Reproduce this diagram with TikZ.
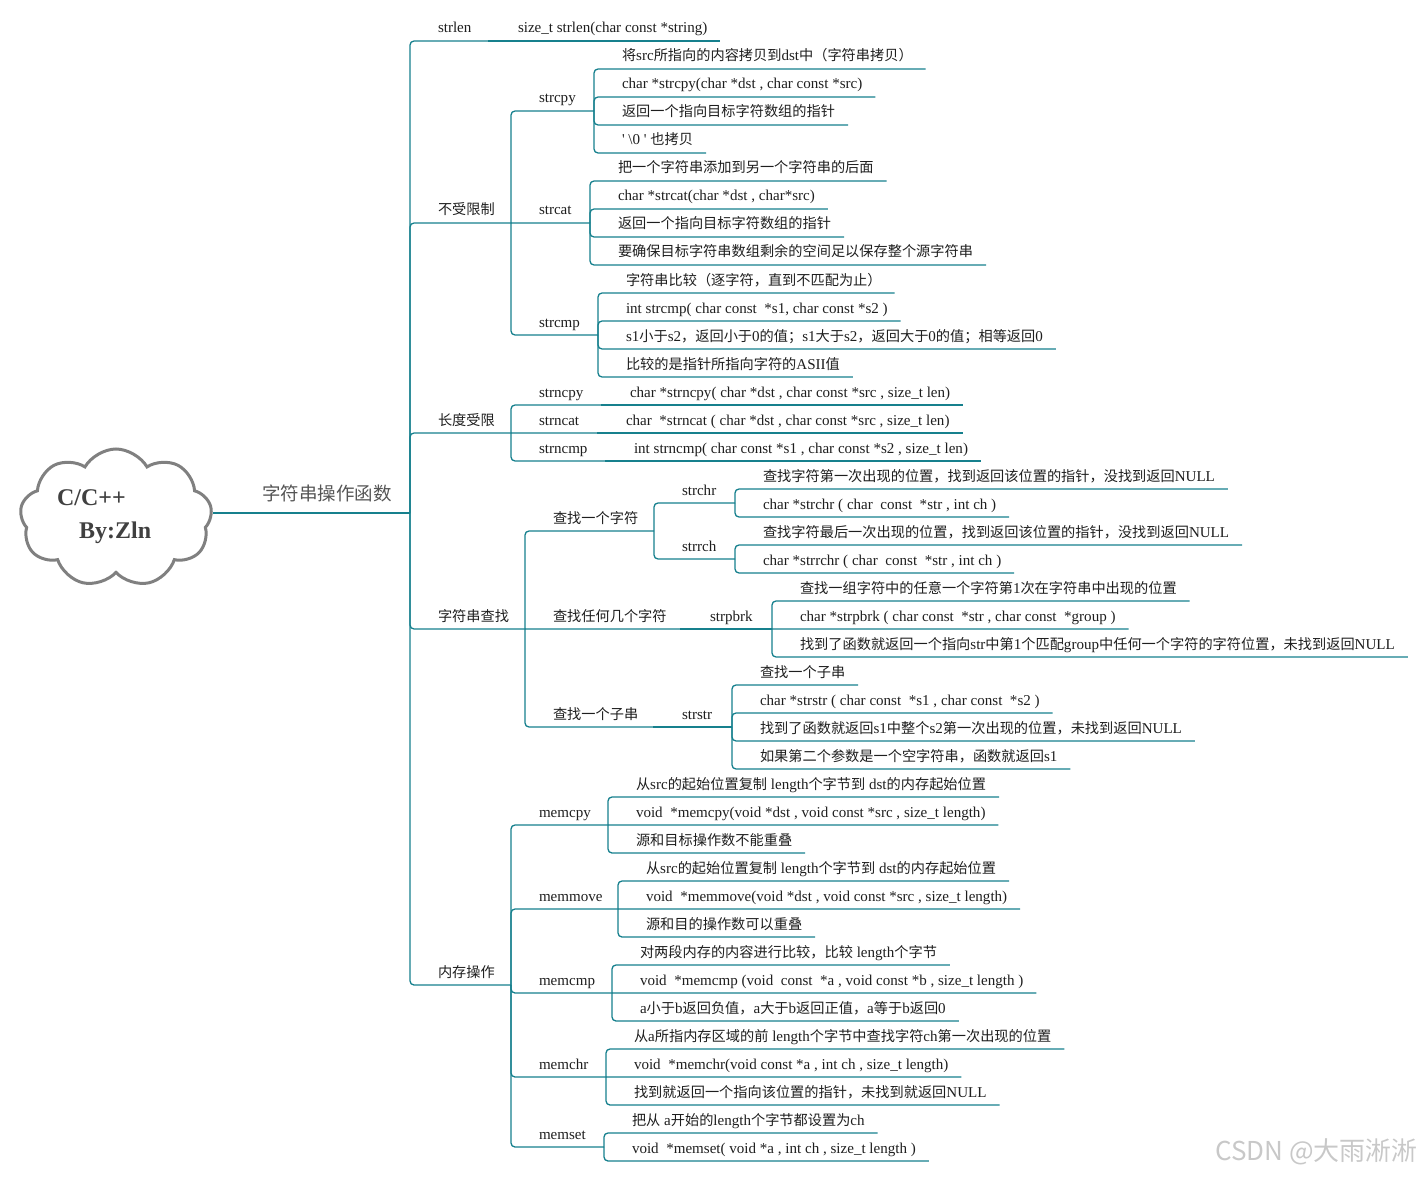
\documentclass[tikz,border=0pt]{standalone}
\usepackage{fontspec}
\setmainfont{Liberation Serif}[Scale=1.06]
\newfontfamily\cjk{Noto Sans CJK SC}
\usetikzlibrary{shapes.symbols}

% Chinese characters are set in the CJK family, the rest in the main font
\newcount\cjkc
\cjkc="4E00
\loop \XeTeXcharclass\cjkc=7 \advance\cjkc by 1 \ifnum\cjkc<"A000 \repeat
\cjkc="3000
\loop \XeTeXcharclass\cjkc=7 \advance\cjkc by 1 \ifnum\cjkc<"3040 \repeat
\cjkc="FF00
\loop \XeTeXcharclass\cjkc=7 \advance\cjkc by 1 \ifnum\cjkc<"FFF0 \repeat
\XeTeXinterchartoks 0 7 = {\begingroup\cjk}
\XeTeXinterchartoks 4095 7 = {\begingroup\cjk}
\XeTeXinterchartoks 7 0 = {\endgroup}
\XeTeXinterchartoks 7 4095 = {\endgroup}
\XeTeXinterchartokenstate=1

\definecolor{branch}{RGB}{22,128,141}
\definecolor{ink}{RGB}{30,30,30}
\definecolor{titlegray}{RGB}{85,85,85}
\definecolor{cloudline}{RGB}{128,128,128}
\definecolor{mark}{RGB}{200,200,200}

\begin{document}
\begin{tikzpicture}[x=1pt,y=-1pt,
  link/.style={draw=branch,line width=1.3pt,rounded corners=4pt},
  topic/.style={anchor=south west,inner sep=0pt,outer sep=0pt,text depth=8pt,text=ink,font=\fontsize{14.2}{17}\selectfont}]
\useasboundingbox (0,0) rectangle (1422,1177);

% root
\draw[link] (213,513) coordinate (rootE) -- (410,513) coordinate (j0);
\node[cloud,cloud puffs=9,cloud puff arc=120,aspect=1.4,draw=cloudline,line width=3pt,fill=white,
  minimum width=192pt,minimum height=138pt,inner sep=0pt] (root) at (116,518) {};
\node[anchor=base west,inner sep=0pt,text=ink!85,font=\fontsize{22.6}{26}\selectfont\bfseries] (rootA) at (57,505) {C/C++};
\node[anchor=base west,inner sep=0pt,text=ink!85,font=\fontsize{22.6}{26}\selectfont\bfseries] (rootB) at (79,538) {By:Zln};
\node[topic,text depth=13pt,text=titlegray,font=\fontsize{18.5}{22}\selectfont] (title) at (262,513) {字符串操作函数};

% level 1
\node[topic] (strlen) at (438,41) {strlen};
\node[topic] (unlim) at (438,223) {不受限制};
\node[topic] (lenlim) at (438,433) {长度受限};
\node[topic] (search) at (438,629) {字符串查找};
\node[topic] (memop) at (438,985) {内存操作};
\coordinate (strlenJ) at (488,41);
\coordinate (unlimJ) at (511,223);
\coordinate (lenlimJ) at (511,433);
\coordinate (searchJ) at (525,629);
\coordinate (memopJ) at (511,985);

% strlen
\node[topic] (strlenA) at (518,41) {size\_t strlen(char const *string)};

% unlimited
\node[topic] (strcpy) at (539,111) {strcpy};
\node[topic] (strcat) at (539,223) {strcat};
\node[topic] (strcmp) at (539,335) {strcmp};
\coordinate (strcpyJ) at (594,111);
\coordinate (strcatJ) at (590,223);
\coordinate (strcmpJ) at (598,335);
\node[topic] (strcpyA) at (622,69) {将src所指向的内容拷贝到dst中（字符串拷贝）};
\node[topic] (strcpyB) at (622,97) {char *strcpy(char *dst , char const *src)};
\node[topic] (strcpyC) at (622,125) {返回一个指向目标字符数组的指针};
\node[topic] (strcpyD) at (622,153) {\textquotesingle\ \textbackslash 0 \textquotesingle\ 也拷贝};
\node[topic] (strcatA) at (618,181) {把一个字符串添加到另一个字符串的后面};
\node[topic] (strcatB) at (618,209) {char *strcat(char *dst , char*src)};
\node[topic] (strcatC) at (618,237) {返回一个指向目标字符数组的指针};
\node[topic] (strcatD) at (618,265) {要确保目标字符串数组剩余的空间足以保存整个源字符串};
\node[topic] (strcmpA) at (626,293) {字符串比较（逐字符，直到不匹配为止）};
\node[topic] (strcmpB) at (626,321) {int strcmp( char const \ *s1, char const *s2 )};
\node[topic] (strcmpC) at (626,349) {s1小于s2，返回小于0的值；s1大于s2，返回大于0的值；相等返回0};
\node[topic] (strcmpD) at (626,377) {比较的是指针所指向字符的ASII值};

% length limited
\node[topic] (strncpy) at (539,405) {strncpy};
\node[topic] (strncat) at (539,433) {strncat};
\node[topic] (strncmp) at (539,461) {strncmp};
\coordinate (strncpyJ) at (601,405);
\coordinate (strncatJ) at (597,433);
\coordinate (strncmpJ) at (605,461);
\node[topic] (strncpyA) at (630,405) {char *strncpy( char *dst , char const *src , size\_t len)};
\node[topic] (strncatA) at (626,433) {char \ *strncat ( char *dst , char const *src , size\_t len)};
\node[topic] (strncmpA) at (634,461) {int strncmp( char const *s1 , char const *s2 , size\_t len)};

% search
\node[topic] (onechar) at (553,531) {查找一个字符};
\node[topic] (anychar) at (553,629) {查找任何几个字符};
\node[topic] (substr) at (553,727) {查找一个子串};
\coordinate (onecharJ) at (654,531);
\coordinate (anycharJ) at (680,629);
\coordinate (substrJ) at (653,727);
\node[topic] (strchr) at (682,503) {strchr};
\node[topic] (strrch) at (682,559) {strrch};
\node[topic] (strpbrk) at (710,629) {strpbrk};
\node[topic] (strstr) at (682,727) {strstr};
\coordinate (strchrJ) at (735,503);
\coordinate (strrchJ) at (735,559);
\coordinate (strpbrkJ) at (772,629);
\coordinate (strstrJ) at (732,727);
\node[topic] (strchrA) at (763,489) {查找字符第一次出现的位置，找到返回该位置的指针，没找到返回NULL};
\node[topic] (strchrB) at (763,517) {char *strchr ( char \ const \ *str , int ch )};
\node[topic] (strrchA) at (763,545) {查找字符最后一次出现的位置，找到返回该位置的指针，没找到返回NULL};
\node[topic] (strrchB) at (763,573) {char *strrchr ( char \ const \ *str , int ch )};
\node[topic] (strpbrkA) at (800,601) {查找一组字符中的任意一个字符第1次在字符串中出现的位置};
\node[topic] (strpbrkB) at (800,629) {char *strpbrk ( char const \ *str , char const \ *group )};
\node[topic] (strpbrkC) at (800,657) {找到了函数就返回一个指向str中第1个匹配group中任何一个字符的字符位置，未找到返回NULL};
\node[topic] (strstrA) at (760,685) {查找一个子串};
\node[topic] (strstrB) at (760,713) {char *strstr ( char const \ *s1 , char const \ *s2 )};
\node[topic] (strstrC) at (760,741) {找到了函数就返回s1中整个s2第一次出现的位置，未找到返回NULL};
\node[topic] (strstrD) at (760,769) {如果第二个参数是一个空字符串，函数就返回s1};

% memory
\node[topic] (memcpy) at (539,825) {memcpy};
\node[topic] (memmove) at (539,909) {memmove};
\node[topic] (memcmp) at (539,993) {memcmp};
\node[topic] (memchr) at (539,1077) {memchr};
\node[topic] (memset) at (539,1147) {memset};
\coordinate (memcpyJ) at (608,825);
\coordinate (memmoveJ) at (618,909);
\coordinate (memcmpJ) at (612,993);
\coordinate (memchrJ) at (606,1077);
\coordinate (memsetJ) at (604,1147);
\node[topic] (memcpyA) at (636,797) {从src的起始位置复制 length个字节到 dst的内存起始位置};
\node[topic] (memcpyB) at (636,825) {void \ *memcpy(void *dst , void const *src , size\_t length)};
\node[topic] (memcpyC) at (636,853) {源和目标操作数不能重叠};
\node[topic] (memmoveA) at (646,881) {从src的起始位置复制 length个字节到 dst的内存起始位置};
\node[topic] (memmoveB) at (646,909) {void \ *memmove(void *dst , void const *src , size\_t length)};
\node[topic] (memmoveC) at (646,937) {源和目的操作数可以重叠};
\node[topic] (memcmpA) at (640,965) {对两段内存的内容进行比较，比较 length个字节};
\node[topic] (memcmpB) at (640,993) {void \ *memcmp (void \ const \ *a , void const *b , size\_t length )};
\node[topic] (memcmpC) at (640,1021) {a小于b返回负值，a大于b返回正值，a等于b返回0};
\node[topic] (memchrA) at (634,1049) {从a所指内存区域的前 length个字节中查找字符ch第一次出现的位置};
\node[topic] (memchrB) at (634,1077) {void \ *memchr(void const *a , int ch , size\_t length)};
\node[topic] (memchrC) at (634,1105) {找到就返回一个指向该位置的指针，未找到就返回NULL};
\node[topic] (memsetA) at (632,1133) {把从 a开始的length个字节都设置为ch};
\node[topic] (memsetB) at (632,1161) {void \ *memset( void *a , int ch , size\_t length )};

% connectors
\foreach \n in {strlenJ,unlimJ,lenlimJ,searchJ,memopJ} \draw[link] (j0) |- (\n);
\draw[link] (strlenJ) -- ([xshift=13pt]strlenA.south east);
\draw[link] (unlimJ) |- (strcpyJ) (unlimJ) -- (strcatJ) (unlimJ) |- (strcmpJ);
\foreach \n in {A,B,C,D} {
  \draw[link] (strcpyJ) |- ([xshift=13pt]strcpy\n.south east);
  \draw[link] (strcatJ) |- ([xshift=13pt]strcat\n.south east);
  \draw[link] (strcmpJ) |- ([xshift=13pt]strcmp\n.south east);
  \draw[link] (strstrJ) |- ([xshift=13pt]strstr\n.south east);
}
\draw[link] (lenlimJ) |- (strncpyJ) (lenlimJ) -- (strncatJ) (lenlimJ) |- (strncmpJ);
\draw[link] (strncpyJ) -- ([xshift=13pt]strncpyA.south east);
\draw[link] (strncatJ) -- ([xshift=13pt]strncatA.south east);
\draw[link] (strncmpJ) -- ([xshift=13pt]strncmpA.south east);
\draw[link] (searchJ) |- (onecharJ) (searchJ) -- (anycharJ) (searchJ) |- (substrJ);
\draw[link] (onecharJ) |- (strchrJ) (onecharJ) |- (strrchJ);
\draw[link] (anycharJ) -- (strpbrkJ);
\draw[link] (substrJ) -- (strstrJ);
\foreach \n in {A,B} {
  \draw[link] (strchrJ) |- ([xshift=13pt]strchr\n.south east);
  \draw[link] (strrchJ) |- ([xshift=13pt]strrch\n.south east);
  \draw[link] (memsetJ) |- ([xshift=13pt]memset\n.south east);
}
\draw[link] (strpbrkJ) |- ([xshift=13pt]strpbrkA.south east) (strpbrkJ) -- ([xshift=13pt]strpbrkB.south east) (strpbrkJ) |- ([xshift=13pt]strpbrkC.south east);
\foreach \n in {memcpyJ,memmoveJ,memcmpJ,memchrJ,memsetJ} \draw[link] (memopJ) |- (\n);
\foreach \m in {memcpy,memmove,memcmp,memchr}
  \draw[link] (\m J) |- ([xshift=13pt]\m A.south east) (\m J) -- ([xshift=13pt]\m B.south east) (\m J) |- ([xshift=13pt]\m C.south east);

\node[anchor=base east,inner sep=0pt,text=mark,font=\cjk\fontsize{26}{30}\selectfont] (csdn) at (1418,1160) {CSDN @大雨淅淅};
\end{tikzpicture}
\end{document}
